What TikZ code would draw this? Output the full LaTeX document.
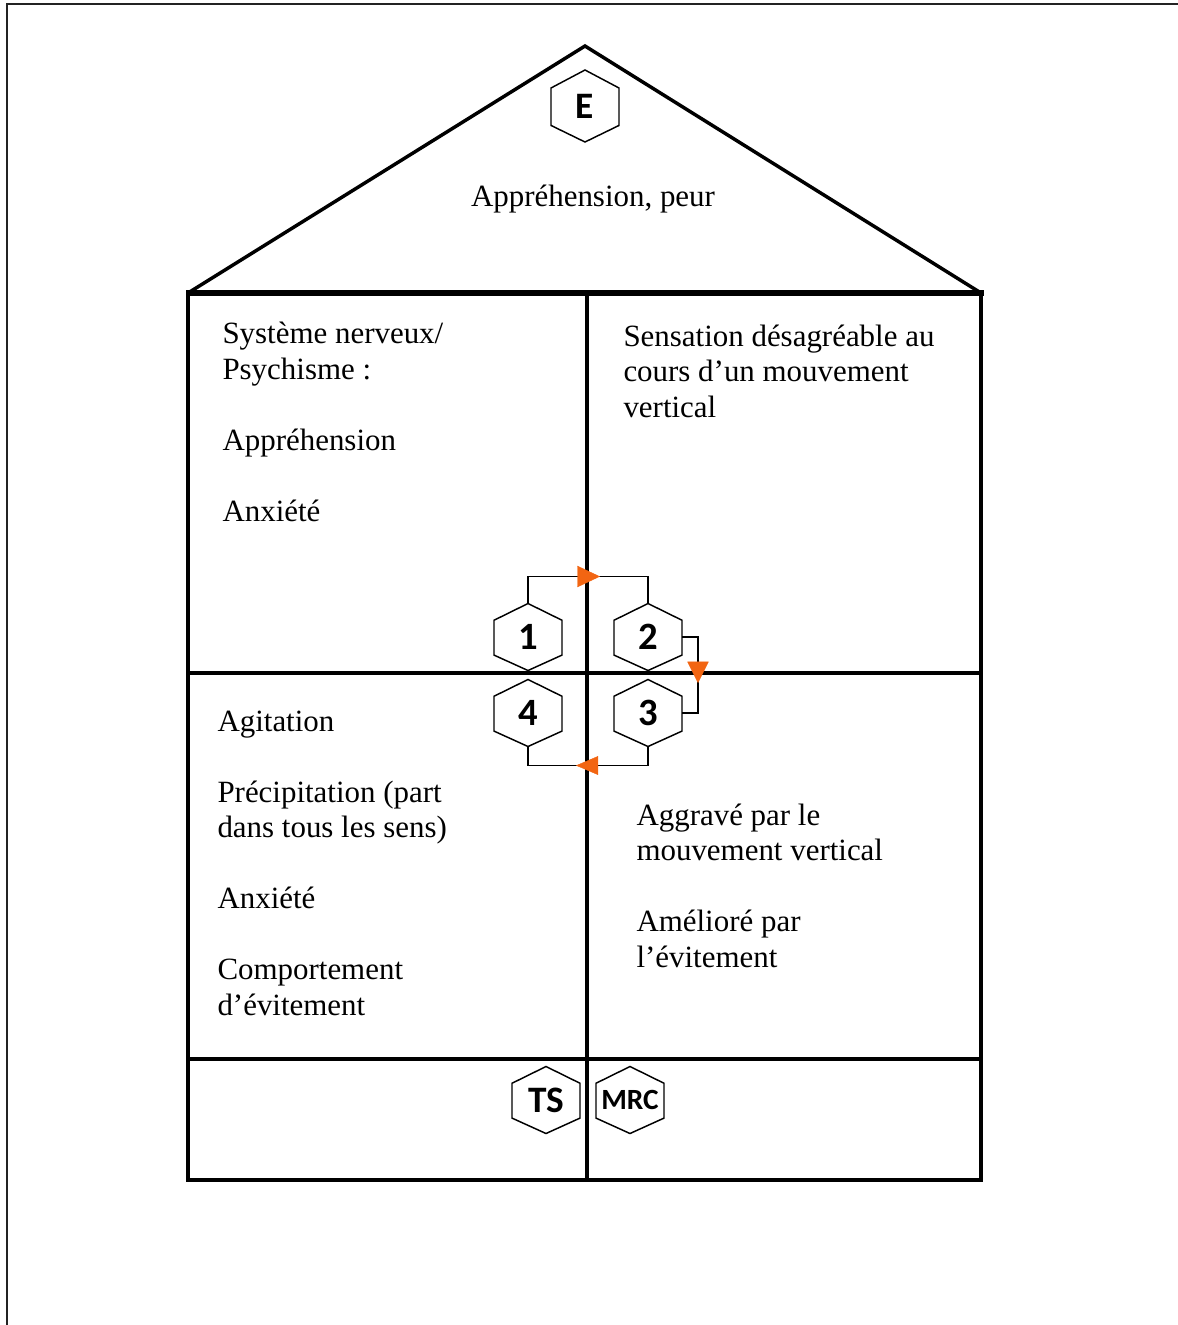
\documentclass[tikz,border=0pt]{standalone}
\usepackage{fontspec}
\setmainfont{Liberation Serif}
\newfontfamily\hexfont{Carlito}
\usetikzlibrary{calc,arrows.meta,decorations.markings}

\definecolor{tipOrange}{RGB}{242,101,18}
\definecolor{frameGray}{RGB}{35,35,35}

\tikzset{every picture/.style={line width=0.75pt}}
\tikzset{
  wall/.style={line width=3.5pt, line join=miter, line cap=rect},
  inner/.style={line width=2.5pt},
  hexa/.style={inner sep=0pt, minimum width=50.25pt, minimum height=49.5pt,
    font=\hexfont\bfseries\fontsize{29}{29}\selectfont},
  hexline/.style={line width=1.1pt, line join=miter},
  link/.style={line width=1.1pt},
  cell/.style={anchor=base west, inner sep=0pt, align=left,
    font=\fontsize{23.2}{26.6}\selectfont},
}

% hexagon badge: name, centre, text
\newcommand{\hexbadge}[4][]{%
  \node [hexa,#1] (#2) at (#3) {#4};
  \draw [hexline] (#2.north) -- ($(#2.north east)!0.25!(#2.south east)$) -- ($(#2.north east)!0.77!(#2.south east)$) -- (#2.south) -- ($(#2.north west)!0.77!(#2.south west)$) -- ($(#2.north west)!0.25!(#2.south west)$) -- cycle ;}

\begin{document}
\begin{tikzpicture}[x=0.75pt,y=0.75pt,yscale=-1,xscale=1]
	\useasboundingbox (0,0) rectangle (1178,1325);
	
	%Frame
	\draw [color=frameGray, line width=1.5pt]  (1178,4) -- (7,4) -- (7,1325) ;
	
	%Roof
	\draw [line width=2.6pt, line join=miter]  (188,293) -- (585,46) -- (981,293) ;
	\draw [line width=3.8pt]  (186,293) -- (984,293) ;
	%Walls
	\draw [wall]  (188,293) -- (188,1180) -- (981,1180) -- (981,293) ;
	%Straight Lines
	\draw [line width=3.2pt]  (587,293) -- (587,1180) ;
	%Straight Lines
	\draw [inner]  (188,673) -- (981,673) ;
	%Straight Lines
	\draw [inner]  (188,1059) -- (981,1059) ;
	
	%Hexagons
	\hexbadge[minimum height=53.25pt, font=\hexfont\bfseries\fontsize{28}{28}\selectfont]{hE}{585,106}{E}
	\hexbadge{h1}{528,637}{1}
	\hexbadge{h2}{648,637}{2}
	\hexbadge{h3}{648,713}{3}
	\hexbadge{h4}{528,713}{4}
	\hexbadge[font=\hexfont\bfseries\fontsize{28}{28}\selectfont]{hTS}{546,1100}{TS}
	\hexbadge[font=\hexfont\bfseries\fontsize{22}{22}\selectfont]{hMRC}{630,1100}{MRC}
	
	%Cycle links
	\draw [link, postaction={decorate}, decoration={markings, mark=at position 74.25pt with {\arrow{Triangle[length=17pt, width=16pt, color=tipOrange, line width=0.3pt]}}}]  (h1.north) -- ++(0,-27) -| (h2.north) ;
	\draw [link, postaction={decorate}, decoration={markings, mark=at position 46.5pt with {\arrow{Triangle[length=16pt, width=16pt, color=tipOrange, line width=0.3pt]}}}]  (h2.east) -- ++(16,0) |- (h3.east) ;
	\draw [link, postaction={decorate}, decoration={markings, mark=at position 68.25pt with {\arrow{Triangle[length=16.5pt, width=14pt, color=tipOrange, line width=0.3pt]}}}]  (h3.south) -- ++(0,19) -| (h4.south) ;
	
	% Text Node
	\draw (593,206) node [anchor=base][inner sep=0pt] [font=\fontsize{23.2}{26.6}\selectfont] (peur) {Appréhension, peur};
	% Text Node (anchored on the last line)
	\draw (222,521) node [cell] (nerveux) {Système nerveux/\\Psychisme :\\[26.6pt]Appréhension\\[26.6pt]Anxiété};
	% Text Node
	\draw (623,417) node [cell] (sensation) {Sensation désagréable au\\cours d’un mouvement\\vertical};
	% Text Node
	\draw (217,1015) node [cell] (agitation) {Agitation\\[26.6pt]Précipitation (part\\dans tous les sens)\\[26.6pt]Anxiété\\[26.6pt]Comportement\\d’évitement};
	% Text Node
	\draw (636,967) node [cell] (aggrave) {Aggravé par le\\mouvement vertical\\[26.6pt]Amélioré par\\l’évitement};
	
\end{tikzpicture}
\end{document}
